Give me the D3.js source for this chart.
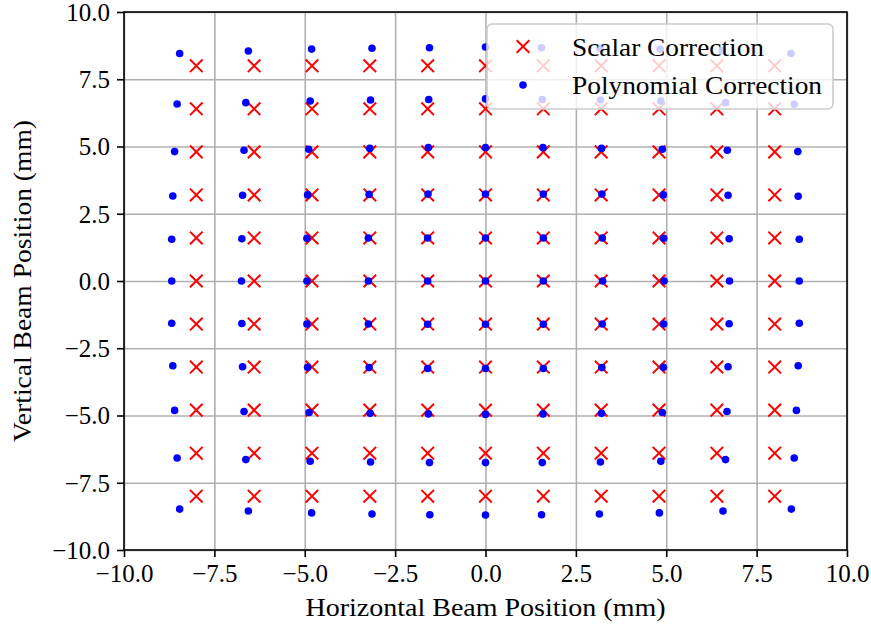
<!DOCTYPE html>
<html>
<head>
<meta charset="utf-8">
<script src="https://cdn.jsdelivr.net/npm/d3@7"></script>
<style>
  body { margin: 0; background: #fff; }
  text { font-family: "Liberation Serif", serif; }
</style>
</head>
<body>
<div id="chart"></div>
<script>
// nominal beam grid (scalar correction lands on it)
const gridVals = [-8, -6.4, -4.8, -3.2, -1.6, 0, 1.6, 3.2, 4.8, 6.4, 8];

// polynomial correction, one row per nominal y (from -8 up to 8)
const polyX = [
  [-8.46, -6.56, -4.81, -3.14, -1.54, 0, 1.55, 3.15, 4.81, 6.57, 8.46],
  [-8.53, -6.63, -4.85, -3.18, -1.55, 0, 1.57, 3.18, 4.85, 6.64, 8.54],
  [-8.60, -6.68, -4.88, -3.19, -1.58, 0, 1.59, 3.21, 4.89, 6.68, 8.60],
  [-8.65, -6.72, -4.92, -3.22, -1.60, 0, 1.60, 3.22, 4.92, 6.71, 8.65],
  [-8.68, -6.74, -4.94, -3.24, -1.60, 0, 1.60, 3.23, 4.93, 6.74, 8.68],
  [-8.68, -6.75, -4.94, -3.24, -1.60, 0, 1.60, 3.24, 4.94, 6.75, 8.68],
  [-8.68, -6.74, -4.94, -3.24, -1.60, 0, 1.60, 3.23, 4.93, 6.74, 8.68],
  [-8.65, -6.72, -4.92, -3.22, -1.59, 0, 1.60, 3.22, 4.92, 6.71, 8.65],
  [-8.60, -6.68, -4.89, -3.20, -1.58, 0, 1.59, 3.21, 4.89, 6.69, 8.64],
  [-8.53, -6.63, -4.85, -3.18, -1.57, 0, 1.57, 3.18, 4.85, 6.64, 8.54],
  [-8.46, -6.56, -4.81, -3.14, -1.55, 0, 1.55, 3.16, 4.83, 6.55, 8.45]
];
const polyY = [
  [-8.48, -8.55, -8.62, -8.66, -8.69, -8.70, -8.69, -8.66, -8.62, -8.55, -8.48],
  [-6.58, -6.64, -6.70, -6.73, -6.75, -6.75, -6.75, -6.73, -6.70, -6.64, -6.58],
  [-4.81, -4.85, -4.89, -4.92, -4.94, -4.96, -4.94, -4.92, -4.89, -4.85, -4.81],
  [-3.15, -3.19, -3.21, -3.22, -3.25, -3.25, -3.25, -3.22, -3.21, -3.19, -3.15],
  [-1.57, -1.58, -1.60, -1.60, -1.61, -1.61, -1.61, -1.60, -1.60, -1.59, -1.57],
  [0, 0, 0, 0, 0, 0, 0, 0, 0, 0, 0],
  [1.55, 1.57, 1.59, 1.60, 1.60, 1.60, 1.60, 1.60, 1.59, 1.57, 1.55],
  [3.16, 3.19, 3.20, 3.22, 3.23, 3.23, 3.23, 3.23, 3.20, 3.19, 3.15],
  [4.81, 4.86, 4.90, 4.93, 4.96, 4.96, 4.96, 4.93, 4.90, 4.86, 4.81],
  [6.58, 6.63, 6.69, 6.73, 6.75, 6.77, 6.75, 6.73, 6.69, 6.63, 6.57],
  [8.46, 8.55, 8.62, 8.65, 8.67, 8.70, 8.67, 8.65, 8.62, 8.56, 8.46]
];

const xTicks = [-10, -7.5, -5, -2.5, 0, 2.5, 5, 7.5, 10];
const yTicks = [-10, -7.5, -5, -2.5, 0, 2.5, 5, 7.5, 10];
const seriesNames = ["Scalar Correction", "Polynomial Correction"];

const width = 871, height = 626;
const margin = {top: 12, right: 24, bottom: 76, left: 124};
const plotW = width - margin.left - margin.right;
const plotH = height - margin.top - margin.bottom;
const fontSize = 25;

const svg = d3.select("#chart").append("svg")
  .attr("width", width)
  .attr("height", height);

const x = d3.scaleLinear().domain([-10, 10]).range([0, plotW]);
const y = d3.scaleLinear().domain([-10, 10]).range([plotH, 0]);
const fmt = d3.format(".1f");

const g = svg.append("g").attr("transform", `translate(${margin.left},${margin.top})`);

// grid
g.append("g")
  .attr("class", "grid-x")
  .attr("transform", `translate(0,${plotH})`)
  .call(d3.axisBottom(x).tickValues(xTicks).tickSize(-plotH).tickFormat(""))
  .call(s => s.select(".domain").remove())
  .selectAll("line").attr("stroke", "#b0b0b0").attr("stroke-width", 1.6);
g.append("g")
  .attr("class", "grid-y")
  .call(d3.axisLeft(y).tickValues(yTicks).tickSize(-plotW).tickFormat(""))
  .call(s => s.select(".domain").remove())
  .selectAll("line").attr("stroke", "#b0b0b0").attr("stroke-width", 1.6);

// points
const scalarPts = [];
gridVals.forEach(yv => gridVals.forEach(xv => scalarPts.push({x: xv, y: yv})));
const polyPts = [];
polyX.forEach((row, i) => row.forEach((xv, j) => polyPts.push({x: xv, y: polyY[i][j]})));

const cross = 6.3;
const crossPath = `M${-cross},${-cross}L${cross},${cross}M${-cross},${cross}L${cross},${-cross}`;

g.append("g").attr("class", "scalar")
  .selectAll("path")
  .data(scalarPts)
  .join("path")
  .attr("transform", d => `translate(${x(d.x)},${y(d.y)})`)
  .attr("d", crossPath)
  .attr("stroke", "#ff0000")
  .attr("stroke-width", 2)
  .attr("fill", "none");

g.append("g").attr("class", "poly")
  .selectAll("circle")
  .data(polyPts)
  .join("circle")
  .attr("cx", d => x(d.x))
  .attr("cy", d => y(d.y))
  .attr("r", 3.8)
  .attr("fill", "#0000ff");

// axes
const xAxis = g.append("g")
  .attr("transform", `translate(0,${plotH})`)
  .call(d3.axisBottom(x).tickValues(xTicks).tickFormat(fmt).tickSize(7).tickPadding(7).tickSizeOuter(0));
const yAxis = g.append("g")
  .call(d3.axisLeft(y).tickValues(yTicks).tickFormat(fmt).tickSize(7).tickPadding(7).tickSizeOuter(0));
[xAxis, yAxis].forEach(a => {
  a.select(".domain").remove();
  a.selectAll(".tick line").attr("stroke", "#000").attr("stroke-width", 1.6);
  a.selectAll(".tick text")
    .attr("fill", "#000")
    .style("font-size", fontSize + "px")
    .style("font-family", "'Liberation Serif', serif");
});
yAxis.selectAll(".tick text").attr("dy", "0.33em");

// frame
g.append("rect")
  .attr("width", plotW)
  .attr("height", plotH)
  .attr("fill", "none")
  .attr("stroke", "#000")
  .attr("stroke-width", 1.6);

// axis labels (stretched a little to the width of the original LaTeX text)
svg.append("text")
  .attr("x", margin.left + plotW / 2)
  .attr("y", 615.5)
  .attr("text-anchor", "middle")
  .attr("textLength", 360)
  .attr("lengthAdjust", "spacingAndGlyphs")
  .style("font-size", fontSize + "px")
  .text("Horizontal Beam Position (mm)");
svg.append("text")
  .attr("transform", `translate(31,${margin.top + plotH / 2}) rotate(-90)`)
  .attr("text-anchor", "middle")
  .attr("textLength", 322)
  .attr("lengthAdjust", "spacingAndGlyphs")
  .style("font-size", fontSize + "px")
  .text("Vertical Beam Position (mm)");

// legend
const legend = svg.append("g").attr("class", "legend");
legend.append("rect")
  .attr("x", 487).attr("y", 24)
  .attr("width", 346).attr("height", 85)
  .attr("rx", 5)
  .attr("fill", "#fff").attr("fill-opacity", 0.8)
  .attr("stroke", "#cccccc").attr("stroke-width", 1.6);
legend.append("path")
  .attr("transform", "translate(523,46.5)")
  .attr("d", crossPath)
  .attr("stroke", "#ff0000").attr("stroke-width", 2).attr("fill", "none");
legend.append("circle")
  .attr("cx", 523).attr("cy", 85).attr("r", 3.8)
  .attr("fill", "#0000ff");
const labelWidths = [192, 250];
legend.selectAll("text.lbl")
  .data(seriesNames)
  .join("text")
  .attr("class", "lbl")
  .attr("x", 572)
  .attr("y", (d, i) => 56 + i * 37.5)
  .attr("textLength", (d, i) => labelWidths[i])
  .attr("lengthAdjust", "spacingAndGlyphs")
  .style("font-size", fontSize + "px")
  .text(d => d);
</script>
</body>
</html>
